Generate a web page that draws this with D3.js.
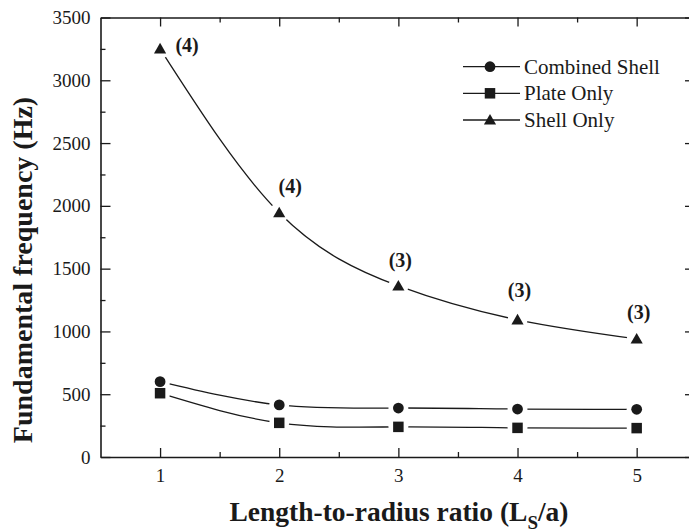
<!DOCTYPE html>
<html>
<head>
<meta charset="utf-8">
<script src="https://cdn.jsdelivr.net/npm/d3@7"></script>
<style>
  html, body { margin: 0; padding: 0; background: #fff; }
  svg { display: block; }
</style>
</head>
<body>
<svg id="chart" width="689" height="532"></svg>
<script>
// ---- data ----
const ratios = [1, 2, 3, 4, 5];
const combinedShell = [600, 415, 390, 382, 380];
const plateOnly = [508, 272, 240, 232, 230];
const shellOnly = [3250, 1945, 1362, 1092, 940];
const modeLabels = ["(4)", "(4)", "(3)", "(3)", "(3)"];
const seriesNames = ["Combined Shell", "Plate Only", "Shell Only"];
const yTicks = [0, 500, 1000, 1500, 2000, 2500, 3000, 3500];
const xTicks = [1, 2, 3, 4, 5];

(function () {
const svg = d3.select("#chart");
const W = 689, H = 532;
const pL = 100.5, pR = 691, pT = 17.5, pB = 457;
const font = "'Liberation Serif', 'Times New Roman', Times, serif";
const ink = "#1a1a1a";

const x = d3.scaleLinear().domain([0.5, 5.456]).range([pL, pR]);
const y = d3.scaleLinear().domain([0, 3500]).range([pB, pT]);

const series = [
  { name: seriesNames[0], values: combinedShell, shape: "circle" },
  { name: seriesNames[1], values: plateOnly, shape: "square" },
  { name: seriesNames[2], values: shellOnly, shape: "triangle" }
];

const symbolFor = s => s === "circle" ? d3.symbol().type(d3.symbolCircle).size(Math.PI * 5.4 * 5.4)
  : s === "square" ? d3.symbol().type(d3.symbolSquare).size(10.5 * 10.5)
  : d3.symbol().type(d3.symbolTriangle).size(64);

// ---- mask for line gaps around markers ----
const defs = svg.append("defs");
const mask = defs.append("mask").attr("id", "gapmask").attr("maskUnits", "userSpaceOnUse")
  .attr("x", 0).attr("y", 0).attr("width", W).attr("height", H);
mask.append("rect").attr("x", 0).attr("y", 0).attr("width", W).attr("height", H).attr("fill", "#fff");
series.forEach(s => {
  mask.selectAll(null).data(s.values).enter().append("circle")
    .attr("cx", (d, i) => x(ratios[i])).attr("cy", d => y(d)).attr("r", 10).attr("fill", "#000");
});

// ---- lines ----
const line = d3.line().x((d, i) => x(ratios[i])).y(d => y(d)).curve(d3.curveNatural);
const linesG = svg.append("g").attr("mask", "url(#gapmask)");
series.forEach(s => {
  linesG.append("path").attr("d", line(s.values)).attr("fill", "none")
    .attr("stroke", ink).attr("stroke-width", 1.3);
});

// ---- markers ----
series.forEach(s => {
  svg.append("g").selectAll("path").data(s.values).enter().append("path")
    .attr("d", symbolFor(s.shape)())
    .attr("transform", (d, i) => `translate(${x(ratios[i])},${y(d) + (s.shape === "triangle" ? 1 : 0)})`)
    .attr("fill", ink);
});

// ---- mode labels ----
const labelOffsets = [[27, 3], [11, -19.5], [2, -19], [2, -23], [2, -20]];
svg.append("g").selectAll("text").data(shellOnly).enter().append("text")
  .attr("x", (d, i) => x(ratios[i]) + labelOffsets[i][0])
  .attr("y", (d, i) => y(d) + labelOffsets[i][1])
  .attr("text-anchor", "middle")
  .attr("font-family", font).attr("font-weight", "bold").attr("font-size", 20)
  .attr("fill", ink)
  .text((d, i) => modeLabels[i]);

// ---- axes ----
const axG = svg.append("g").attr("font-family", font);
const xMinor = d3.range(1.5, 5.5, 1);
const yMinor = d3.range(250, 3500, 500);

function drawAxis(g, axis, tx, ty) {
  const a = g.append("g").attr("transform", `translate(${tx},${ty})`).call(axis);
  a.select(".domain").attr("stroke", ink).attr("stroke-width", 1.6);
  a.selectAll(".tick line").attr("stroke", ink).attr("stroke-width", 1.3);
  return a;
}

// bottom
const xb = drawAxis(axG, d3.axisBottom(x).tickValues(xTicks).tickSize(-9).tickSizeOuter(0).tickPadding(12)
  .tickFormat(d3.format("d")), 0, pB);
xb.selectAll(".tick text").attr("font-size", 19).attr("fill", ink).attr("font-family", font)
  .attr("dy", "0.71em");
drawAxis(axG, d3.axisBottom(x).tickValues(xMinor).tickSize(-5).tickSizeOuter(0).tickFormat(""), 0, pB)
  .select(".domain").remove();
// top
drawAxis(axG, d3.axisTop(x).tickValues(xTicks).tickSize(-9).tickSizeOuter(0).tickFormat(""), 0, pT);
drawAxis(axG, d3.axisTop(x).tickValues(xMinor).tickSize(-5).tickSizeOuter(0).tickFormat(""), 0, pT)
  .select(".domain").remove();
// left
const yl = drawAxis(axG, d3.axisLeft(y).tickValues(yTicks).tickSize(-10).tickSizeOuter(0).tickPadding(10)
  .tickFormat(d3.format("d")), pL, 0);
yl.selectAll(".tick text").attr("font-size", 19).attr("fill", ink).attr("font-family", font);
drawAxis(axG, d3.axisLeft(y).tickValues(yMinor).tickSize(-5).tickSizeOuter(0).tickFormat(""), pL, 0)
  .select(".domain").remove();
// right
drawAxis(axG, d3.axisRight(y).tickValues(yTicks).tickSize(-6).tickSizeOuter(0).tickFormat(""), pR, 0);

// ---- axis titles ----
svg.append("text")
  .attr("transform", `translate(32,270) rotate(-90)`)
  .attr("text-anchor", "middle")
  .attr("font-family", font).attr("font-weight", "bold").attr("font-size", 28).attr("fill", ink)
  .text("Fundamental frequency (Hz)");

const xt = svg.append("text")
  .attr("x", 399).attr("y", 521)
  .attr("text-anchor", "middle")
  .attr("font-family", font).attr("font-weight", "bold").attr("font-size", 27.5).attr("fill", ink);
xt.append("tspan").text("Length-to-radius ratio (L");
xt.append("tspan").attr("font-size", 19).attr("dy", 8).text("S");
xt.append("tspan").attr("dy", -8).text("/a)");

// ---- legend ----
const legY = [66.7, 93.3, 120];
const leg = svg.append("g");
series.forEach((s, i) => {
  const g = leg.append("g").attr("transform", `translate(0,${legY[i]})`);
  g.append("line").attr("x1", 463).attr("x2", 520).attr("y1", 0).attr("y2", 0)
    .attr("stroke", ink).attr("stroke-width", 1.3);
  g.append("path").attr("d", symbolFor(s.shape)())
    .attr("transform", `translate(490,${s.shape === "triangle" ? 1 : 0})`).attr("fill", ink);
  g.append("text").attr("x", 524).attr("y", 7)
    .attr("font-family", font).attr("font-size", 21).attr("fill", ink)
    .text(s.name);
});
})();
</script>
</body>
</html>
